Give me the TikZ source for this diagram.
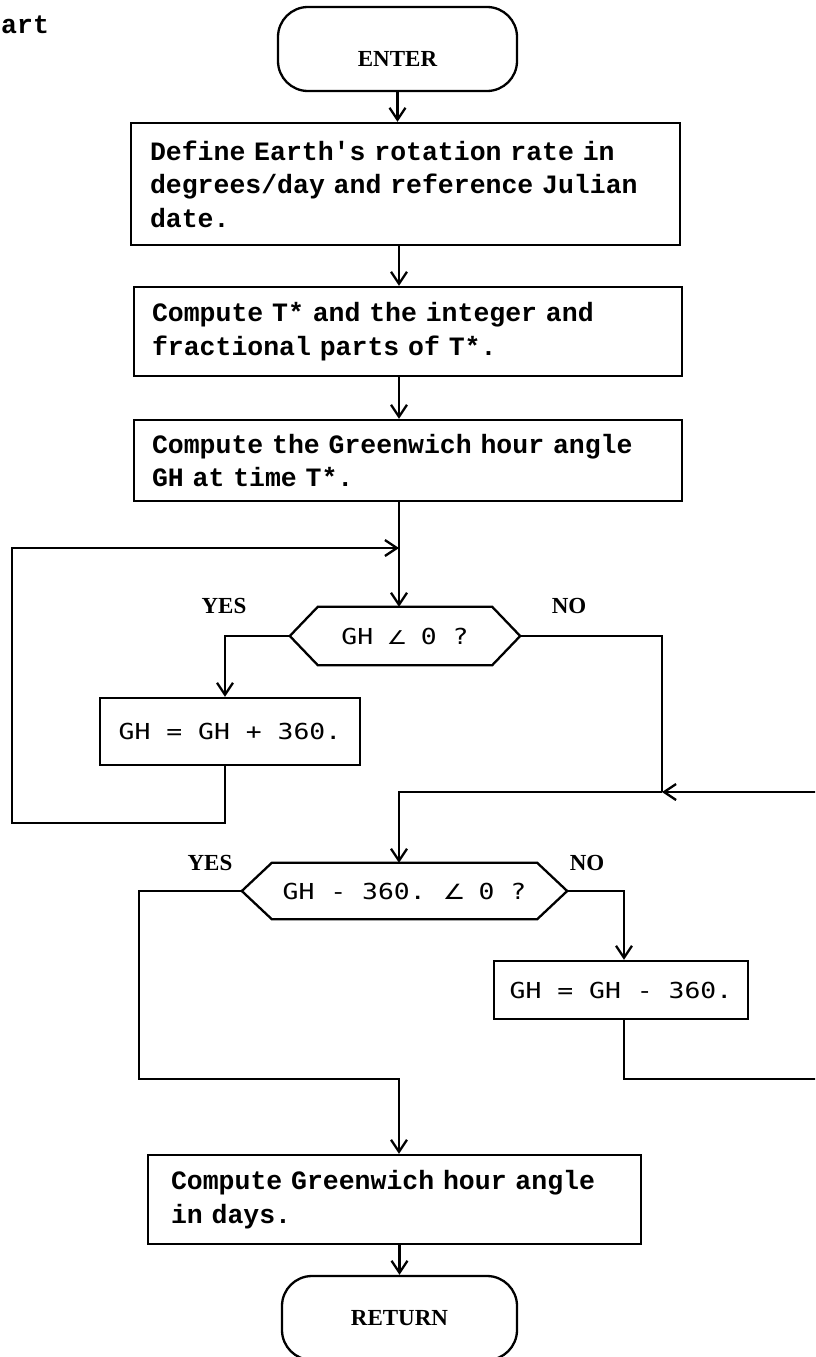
\documentclass[tikz,border=0pt]{standalone}
\usepackage{fontspec}
\usetikzlibrary{arrows.meta}
\newfontfamily\tfont{Liberation Mono}
\newfontfamily\gfont{DejaVu Sans Mono}
\newfontfamily\lfont{Liberation Serif}
\newfontfamily\symf{DejaVu Sans}
\newcommand\boxfont{\tfont\bfseries\fontsize{26.5}{33.5}\selectfont}
\newcommand\lblfont{\lfont\bfseries\fontsize{23}{26}\selectfont}
\newcommand\gtext[1]{\scalebox{1.2}[1]{\gfont\fontsize{22}{26}\selectfont #1}}
\newcommand\angsym{\makebox[0.602em]{\symf\fontsize{19}{20}\selectfont ∠}}
\tikzset{
  ln/.style={line width=2.3pt},
  arr/.style={ln,-{Straight Barb[length=12pt,width=16pt]}},
  procbox/.style={draw,ln,align=left,font=\boxfont,inner ysep=0pt},
  gbox/.style={draw,ln,inner sep=0pt},
  term/.style={draw,ln,rounded corners=30pt,inner sep=0pt,font=\lblfont},
  dec/.style={inner sep=0pt},
  lbl/.style={font=\lblfont,inner sep=0pt}
}
\begin{document}
\begin{tikzpicture}[x=1pt,y=-1pt]
\useasboundingbox (0,0) rectangle (815,1357);
\clip (0,0) rectangle (815,1357);
\fill[white] (0,0) rectangle (815,1357);

\node[anchor=base west,font=\boxfont,inner sep=0pt] (title) at (1,33) {art};

\node[term,minimum width=239pt,minimum height=84pt,text height=34pt,text depth=0pt] (enter) at (397.5,49) {ENTER};
\node[procbox,text width=511pt,inner xsep=19pt,minimum height=122pt] (b1) at (405.5,184)
  {Define Earth's rotation rate in\\degrees/day and reference Julian\\date.};
\node[procbox,text width=512pt,inner xsep=18pt,minimum height=89pt] (b2) at (408,331.5)
  {Compute T* and the integer and\\fractional parts of T*.};
\node[procbox,text width=512pt,inner xsep=18pt,minimum height=81pt] (b3) at (408,460.5)
  {Compute the Greenwich hour angle\\GH at time T*.};

\node[dec,minimum width=230pt,minimum height=58pt] (d1) at (405,636) {\gtext{GH \angsym{} 0 ?}};
\draw[ln] (d1.west) -- ([xshift=28pt]d1.north west) -- ([xshift=-28pt]d1.north east) -- (d1.east)
  -- ([xshift=-28pt]d1.south east) -- ([xshift=28pt]d1.south west) -- cycle;
\node[lbl] (yes1) at (224,606) {YES};
\node[lbl] (no1) at (569,606) {NO};

\node[gbox,minimum width=260pt,minimum height=67pt] (b4) at (230,731.5) {\gtext{GH = GH + 360.}};

\node[dec,minimum width=325pt,minimum height=56pt] (d2) at (404.5,891) {\gtext{GH - 360. \makebox[1.204em][l]{\hspace{-0.15em}\symf\fontsize{21}{22}\selectfont ∠}0 ?}};
\draw[ln] (d2.west) -- ([xshift=30pt]d2.north west) -- ([xshift=-30pt]d2.north east) -- (d2.east)
  -- ([xshift=-30pt]d2.south east) -- ([xshift=30pt]d2.south west) -- cycle;
\node[lbl] (yes2) at (210,863) {YES};
\node[lbl] (no2) at (587,863) {NO};

\node[gbox,minimum width=254pt,minimum height=58pt] (b5) at (621,990) {\gtext{GH = GH - 360.}};

\node[procbox,text width=447pt,inner xsep=23pt,minimum height=89pt] (b6) at (394.5,1199.5)
  {Compute Greenwich hour angle\\in days.};
\node[term,minimum width=235pt,minimum height=84pt] (ret) at (399.5,1318) {RETURN};

\coordinate (sp) at (399,0);
\coordinate (j1) at (399,548);
\coordinate (loopL) at (12,823);
\coordinate (j2) at (662,792);
\coordinate (m1) at (139,1079);
\coordinate (rc) at (830,1079);

\draw[arr] (enter.south) -- (enter.south |- b1.north);
\draw[arr] (b1.south -| sp) -- (b2.north -| sp);
\draw[arr] (b2.south -| sp) -- (b3.north -| sp);
\draw[arr] (b3.south -| sp) -- (d1.north -| sp);
\draw[arr] (d1.west) -| ([xshift=-5pt]b4.north);
\draw[arr] ([xshift=-5pt]b4.south) |- (loopL) |- (j1);
\draw[ln] (d1.east) -| (j2);
\draw[arr] (j2) -| (d2.north -| sp);
\draw[arr] (d2.west) -| (m1) -| (b6.north -| sp);
\draw[arr] (d2.east) -| ([xshift=3pt]b5.north);
\draw[arr] ([xshift=3pt]b5.south) |- (rc) |- (j2);
\draw[arr] (ret.north |- b6.south) -- (ret.north);
\end{tikzpicture}
\end{document}
